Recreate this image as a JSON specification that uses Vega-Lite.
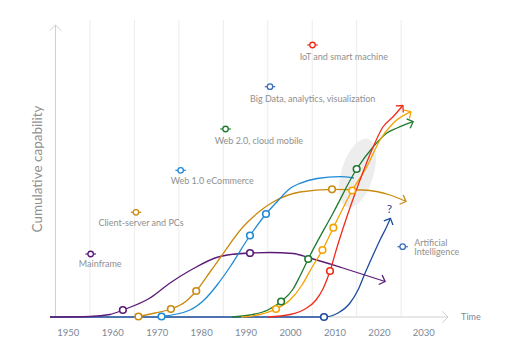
{
 "$schema": "https://vega.github.io/schema/vega-lite/v6.json",
 "width": 400, "height": 297,
 "autosize": "none",
 "padding": {"left": 50, "top": 20, "right": 62, "bottom": 35},
 "background": "white",
 "config": {"view": {"stroke": null}, "font": "Lato"},
 "datasets": {
  "grid": [{"x":1955},{"x":1965},{"x":1975},{"x":1985},{"x":1995},{"x":2005},{"x":2015},{"x":2025}],
  "blob": [{"x":2015.2,"y":144}],
  "axes": [{"x":1947.24,"y":0,"x2":1947.24,"y2":292},{"x":1946,"y":0,"x2":2035.56,"y2":0}],
  "axisArrows": [{"x":1947.24,"y":292,"a":-90},{"x":2035.56,"y":0,"a":0}],
  "curves": [
   {"s":"AI","x":1946,"y":0},{"s":"AI","x":2007.65,"y":0},{"s":"AI","x":2010.8,"y":4},{"s":"AI","x":2013.5,"y":14},{"s":"AI","x":2015.3,"y":27},{"s":"AI","x":2016.9,"y":44},{"s":"AI","x":2018.7,"y":62},{"s":"AI","x":2020.25,"y":77},{"s":"AI","x":2021.75,"y":90.3},{"s":"AI","x":2022.6,"y":98.7},
   {"s":"Mainframe","x":1946,"y":0},{"s":"Mainframe","x":1955,"y":0.5},{"s":"Mainframe","x":1959.5,"y":2.5},{"s":"Mainframe","x":1962.4,"y":7},{"s":"Mainframe","x":1968.5,"y":19},{"s":"Mainframe","x":1973,"y":34},{"s":"Mainframe","x":1977.5,"y":46.5},{"s":"Mainframe","x":1984.25,"y":60.5},{"s":"Mainframe","x":1991,"y":64},{"s":"Mainframe","x":1995.5,"y":64.5},{"s":"Mainframe","x":2000.7,"y":63.5},{"s":"Mainframe","x":2004.5,"y":59},{"s":"Mainframe","x":2011.9,"y":49},{"s":"Mainframe","x":2021.4,"y":35.5},
   {"s":"Client-server","x":1965.9,"y":0.5},{"s":"Client-server","x":1969.6,"y":4},{"s":"Client-server","x":1973.2,"y":8},{"s":"Client-server","x":1976.4,"y":15},{"s":"Client-server","x":1978.9,"y":26},{"s":"Client-server","x":1982,"y":45},{"s":"Client-server","x":1984.25,"y":59},{"s":"Client-server","x":1989.4,"y":90},{"s":"Client-server","x":1993.25,"y":106},{"s":"Client-server","x":1996.2,"y":115},{"s":"Client-server","x":2002.25,"y":125},{"s":"Client-server","x":2009.45,"y":127.7},{"s":"Client-server","x":2016.4,"y":127},{"s":"Client-server","x":2022.5,"y":122},{"s":"Client-server","x":2026.1,"y":115.5},
   {"s":"Web 1.0","x":1971.1,"y":0.5},{"s":"Web 1.0","x":1977.5,"y":7},{"s":"Web 1.0","x":1980.9,"y":18},{"s":"Web 1.0","x":1983.6,"y":32},{"s":"Web 1.0","x":1986.5,"y":50},{"s":"Web 1.0","x":1991,"y":81.5},{"s":"Web 1.0","x":1994.6,"y":103},{"s":"Web 1.0","x":1997.1,"y":115.3},{"s":"Web 1.0","x":2000,"y":128.5},{"s":"Web 1.0","x":2002.25,"y":133.7},{"s":"Web 1.0","x":2006.1,"y":138.5},{"s":"Web 1.0","x":2011.25,"y":140.3},{"s":"Web 1.0","x":2014.4,"y":139},
   {"s":"Web 2.0","x":1987,"y":0},{"s":"Web 2.0","x":1991,"y":2},{"s":"Web 2.0","x":1995,"y":7},{"s":"Web 2.0","x":1998,"y":15.5},{"s":"Web 2.0","x":2000.7,"y":28},{"s":"Web 2.0","x":2002.25,"y":41},{"s":"Web 2.0","x":2004.1,"y":58},{"s":"Web 2.0","x":2009.7,"y":104},{"s":"Web 2.0","x":2015,"y":148},{"s":"Web 2.0","x":2018.7,"y":170},{"s":"Web 2.0","x":2021.8,"y":184},{"s":"Web 2.0","x":2024.1,"y":189},{"s":"Web 2.0","x":2027.7,"y":195.3},
   {"s":"Big Data","x":1989,"y":0},{"s":"Big Data","x":1993.25,"y":2.5},{"s":"Big Data","x":1996.85,"y":8},{"s":"Big Data","x":2000,"y":17},{"s":"Big Data","x":2002.7,"y":32},{"s":"Big Data","x":2005,"y":50},{"s":"Big Data","x":2007.3,"y":67},{"s":"Big Data","x":2009.75,"y":89.3},{"s":"Big Data","x":2014,"y":126.5},{"s":"Big Data","x":2017.3,"y":150.3},{"s":"Big Data","x":2020.25,"y":177},{"s":"Big Data","x":2023.2,"y":193.7},{"s":"Big Data","x":2027.2,"y":205.3},
   {"s":"IoT","x":1995,"y":0},{"s":"IoT","x":2000,"y":2.5},{"s":"IoT","x":2003.4,"y":8},{"s":"IoT","x":2005.85,"y":17},{"s":"IoT","x":2007.4,"y":28},{"s":"IoT","x":2009,"y":46},{"s":"IoT","x":2010.6,"y":70},{"s":"IoT","x":2013.05,"y":103.5},{"s":"IoT","x":2015.75,"y":137},{"s":"IoT","x":2018.7,"y":170},{"s":"IoT","x":2020.9,"y":190},{"s":"IoT","x":2023.2,"y":200.3},{"s":"IoT","x":2025.4,"y":211.5}
  ],
  "arrows": [
   {"s":"Mainframe","x":2021.4,"y":35.5,"a":20},
   {"s":"Client-server","x":2026.1,"y":115.5,"a":22},
   {"s":"Web 2.0","x":2027.7,"y":195.3,"a":-21},
   {"s":"Big Data","x":2027.2,"y":205.3,"a":-33},
   {"s":"IoT","x":2025.4,"y":211.5,"a":-48},
   {"s":"AI","x":2022.6,"y":98.7,"a":-66}
  ],
  "circles": [
   {"s":"Mainframe","x":1962.4,"y":7},{"s":"Mainframe","x":1991,"y":64},
   {"s":"Client-server","x":1965.9,"y":0.5},{"s":"Client-server","x":1973.2,"y":8},{"s":"Client-server","x":1978.9,"y":26},{"s":"Client-server","x":2009.45,"y":127.7},
   {"s":"Web 1.0","x":1971.1,"y":0.5},{"s":"Web 1.0","x":1991,"y":81.5},{"s":"Web 1.0","x":1994.6,"y":103},
   {"s":"Web 2.0","x":1998,"y":15.5},{"s":"Web 2.0","x":2004.1,"y":58},{"s":"Web 2.0","x":2015,"y":148},
   {"s":"Big Data","x":1996.85,"y":8},{"s":"Big Data","x":2007.3,"y":67},{"s":"Big Data","x":2009.75,"y":89.3},{"s":"Big Data","x":2014,"y":126.5},
   {"s":"IoT","x":2009,"y":46},
   {"s":"AI","x":2007.65,"y":0}
  ],
  "keys": [
   {"s":"IoT","x":2005.06,"y":272},
   {"s":"Big Data key","x":1995.5,"y":230.3},
   {"s":"Web 2.0","x":1985.5,"y":188},
   {"s":"Web 1.0","x":1975.4,"y":146.7},
   {"s":"Client-server","x":1965.35,"y":104.7},
   {"s":"Mainframe","x":1955.15,"y":63},
   {"s":"AI key","x":2025.35,"y":70.3}
  ],
  "labels": [
   {"t":"IoT and smart machine","x":2012.1,"y":260.3},
   {"t":"Big Data, analytics, visualization","x":2005.1,"y":218},
   {"t":"Web 2.0, cloud mobile","x":1993.0,"y":176.3},
   {"t":"Web 1.0 eCommerce","x":1982.5,"y":136.3},
   {"t":"Client-server and PCs","x":1966.5,"y":93.7},
   {"t":"Mainframe","x":1957.3,"y":52.7}
  ],
  "aiLabels": [
   {"t":"Artificial","x":2027.95,"y":74.3},
   {"t":"Intelligence","x":2027.95,"y":64.7}
  ],
  "question": [{"t":"?","x":2022.4,"y":108}],
  "timeLabel": [{"t":"Time","x":2038.5,"y":0}],
  "yTitle": [{"t":"Cumulative capability","x":1943.2,"y":148}]
 },
 "encoding": {
  "x": {"field":"x","type":"quantitative","scale":{"domain":[1946,2036],"nice":false,"zero":false},
   "axis":{"values":[1950,1960,1970,1980,1990,2000,2010,2020,2030],"format":"d","ticks":false,"domain":false,"grid":false,"labelFontSize":9.5,"labelColor":"#7d8797","labelPadding":10,"title":null,"labelFont":"Lato"}}
 },
 "layer": [
  {"data":{"name":"grid"},"mark":{"type":"rule","color":"#ececec","strokeWidth":1}},
  {"data":{"name":"blob"},"mark":{"type":"point","shape":"M0.45,0L0.435,0.259L0.39,0.5L0.318,0.707L0.225,0.866L0.116,0.966L0,1L-0.116,0.966L-0.225,0.866L-0.318,0.707L-0.39,0.5L-0.435,0.259L-0.45,0L-0.435,-0.259L-0.39,-0.5L-0.318,-0.707L-0.225,-0.866L-0.116,-0.966L0,-1L0.116,-0.966L0.225,-0.866L0.318,-0.707L0.39,-0.5L0.435,-0.259Z","filled":true,"fill":"#ededed","fillOpacity":1,"strokeWidth":0,"size":5100,"angle":17},
   "encoding":{"y":{"field":"y","type":"quantitative","scale":{"domain":[0,297],"nice":false,"zero":false},"axis":null}}},
  {"data":{"name":"axes"},"mark":{"type":"rule","color":"#d0d0d0","strokeWidth":1},
   "encoding":{"y":{"field":"y","type":"quantitative","scale":{"domain":[0,297],"nice":false,"zero":false},"axis":null},"x2":{"field":"x2"},"y2":{"field":"y2"}}},
  {"data":{"name":"axisArrows"},"mark":{"type":"point","shape":"M-1,-1L0,0L-1,1","filled":false,"stroke":"#d0d0d0","strokeWidth":1,"size":130,"opacity":1},
   "encoding":{"y":{"field":"y","type":"quantitative","scale":{"domain":[0,297],"nice":false,"zero":false},"axis":null},"angle":{"field":"a","type":"quantitative","scale":null}}},
  {"data":{"name":"curves"},"mark":{"type":"line","interpolate":"monotone","strokeWidth":1.3},
   "encoding":{"y":{"field":"y","type":"quantitative","scale":{"domain":[0,297],"nice":false,"zero":false},"axis":null},
    "stroke":{"field":"s","type":"nominal","legend":null,"scale":{"domain":["Mainframe","Client-server","Web 1.0","Web 2.0","Big Data","IoT","AI","Big Data key","AI key"],"range":["#5c1a78","#c98a0f","#1e8ad6","#1f7a2e","#f5a200","#f02c1a","#1b4c9e","#3d6cb9","#3d6cb9"]}}}},
  {"data":{"name":"arrows"},"mark":{"type":"point","shape":"M-1,-1L0,0L-1,1","filled":false,"strokeWidth":1.3,"size":100,"opacity":1},
   "encoding":{"y":{"field":"y","type":"quantitative","scale":{"domain":[0,297],"nice":false,"zero":false},"axis":null},"angle":{"field":"a","type":"quantitative","scale":null},
    "stroke":{"field":"s","type":"nominal","legend":null}}},
  {"data":{"name":"circles"},"mark":{"type":"point","shape":"circle","filled":false,"fill":"white","fillOpacity":1,"strokeWidth":1.6,"size":44,"opacity":1},
   "encoding":{"y":{"field":"y","type":"quantitative","scale":{"domain":[0,297],"nice":false,"zero":false},"axis":null},
    "stroke":{"field":"s","type":"nominal","legend":null}}},
  {"data":{"name":"keys"},"mark":{"type":"point","shape":"stroke","filled":false,"strokeWidth":1.2,"size":110,"opacity":1},
   "encoding":{"y":{"field":"y","type":"quantitative","scale":{"domain":[0,297],"nice":false,"zero":false},"axis":null},
    "stroke":{"field":"s","type":"nominal","legend":null}}},
  {"data":{"name":"keys"},"mark":{"type":"point","shape":"circle","filled":false,"fill":"white","fillOpacity":1,"strokeWidth":1.3,"size":30,"opacity":1},
   "encoding":{"y":{"field":"y","type":"quantitative","scale":{"domain":[0,297],"nice":false,"zero":false},"axis":null},
    "stroke":{"field":"s","type":"nominal","legend":null}}},
  {"data":{"name":"labels"},"mark":{"type":"text","align":"center","baseline":"middle","fontSize":9,"font":"Lato","color":"#909090"},
   "encoding":{"y":{"field":"y","type":"quantitative","scale":{"domain":[0,297],"nice":false,"zero":false},"axis":null},"text":{"field":"t"}}},
  {"data":{"name":"aiLabels"},"mark":{"type":"text","align":"left","baseline":"middle","fontSize":9,"font":"Lato","color":"#909090"},
   "encoding":{"y":{"field":"y","type":"quantitative","scale":{"domain":[0,297],"nice":false,"zero":false},"axis":null},"text":{"field":"t"}}},
  {"data":{"name":"question"},"mark":{"type":"text","align":"center","baseline":"middle","fontSize":12,"font":"Lato","color":"#1b4c9e"},
   "encoding":{"y":{"field":"y","type":"quantitative","scale":{"domain":[0,297],"nice":false,"zero":false},"axis":null},"text":{"field":"t"}}},
  {"data":{"name":"timeLabel"},"mark":{"type":"text","align":"left","baseline":"middle","fontSize":9,"font":"Lato","color":"#7d8797"},
   "encoding":{"y":{"field":"y","type":"quantitative","scale":{"domain":[0,297],"nice":false,"zero":false},"axis":null},"text":{"field":"t"}}},
  {"data":{"name":"yTitle"},"mark":{"type":"text","align":"center","baseline":"middle","fontSize":13.5,"font":"Lato","color":"#909090","angle":270},
   "encoding":{"y":{"field":"y","type":"quantitative","scale":{"domain":[0,297],"nice":false,"zero":false},"axis":null},"text":{"field":"t"}}}
 ]
}
